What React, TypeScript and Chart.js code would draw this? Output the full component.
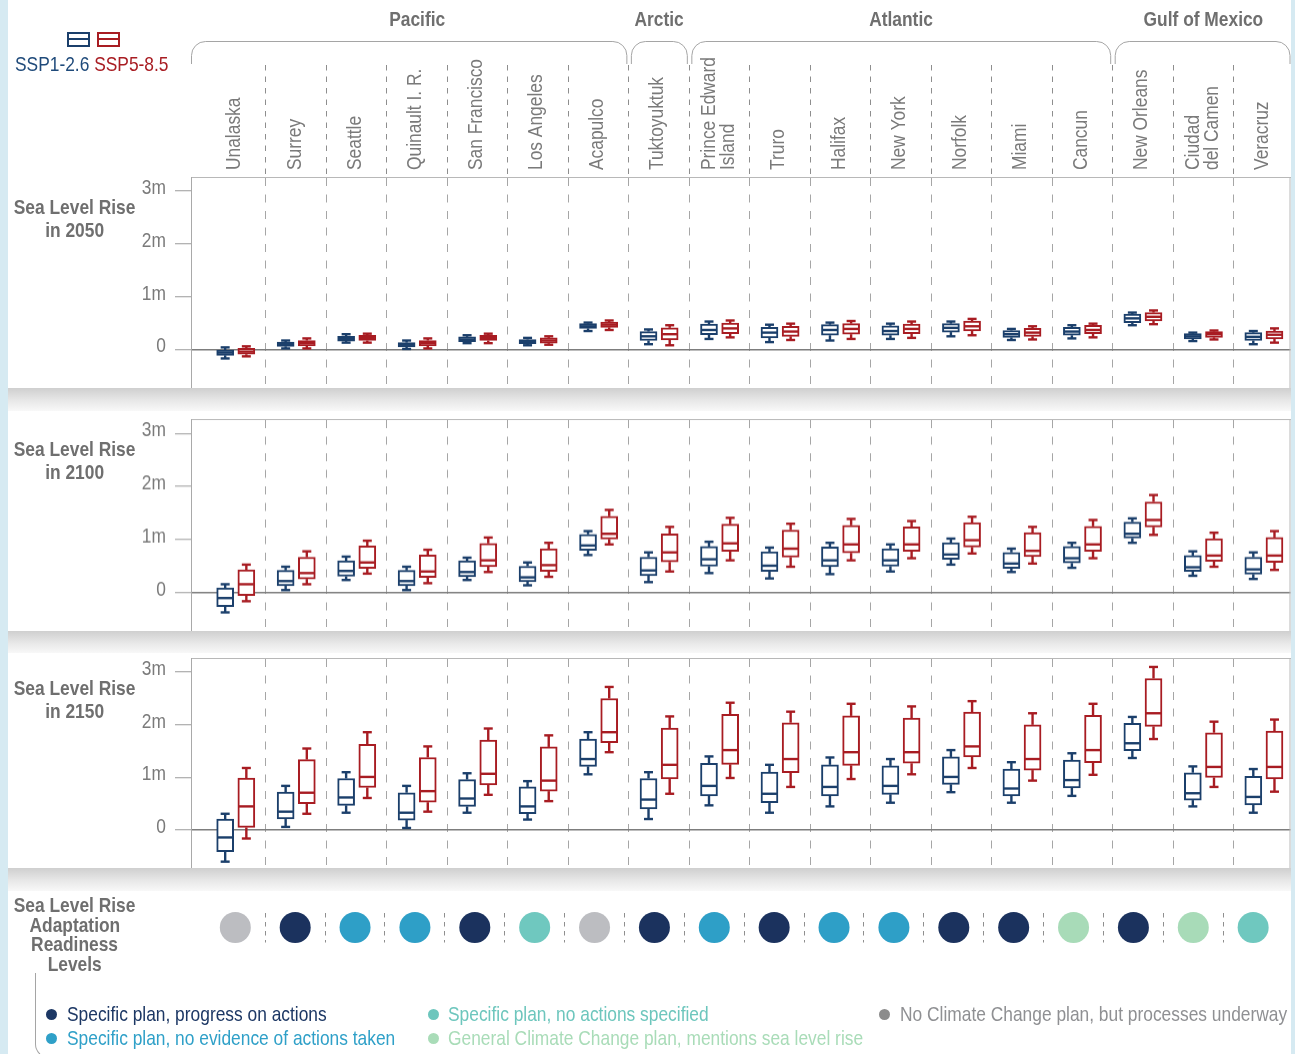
import React, { useEffect, useRef } from 'react';
import { Chart, registerables } from 'chart.js';

Chart.register(...registerables);

// ---------------- data ----------------
const cities: (string | string[])[] = [
  'Unalaska', 'Surrey', 'Seattle', 'Quinault I. R.', 'San Francisco', 'Los Angeles', 'Acapulco',
  'Tuktoyuktuk', ['Prince Edward', 'Island'], 'Truro', 'Halifax', 'New York', 'Norfolk', 'Miami',
  'Cancun', 'New Orleans', ['Ciudad', 'del Camen'], 'Veracruz',
];
const regionNames = ['Pacific', 'Arctic', 'Atlantic', 'Gulf of Mexico'];
const regionFirst = [0, 7, 8, 15];
const regionLast = [6, 7, 14, 17];
const scenarios = ['SSP1-2.6', 'SSP5-8.5'];
const yTickValues = [0, 1, 2, 3];
const yTickLabels = ['0', '1m', '2m', '3m'];
const panelTitles = [['Sea Level Rise', 'in 2050'], ['Sea Level Rise', 'in 2100'], ['Sea Level Rise', 'in 2150']];
const readinessTitle = ['Sea Level Rise', 'Adaptation', 'Readiness', 'Levels'];

// [low whisker, q1, median, q3, high whisker] in metres
const ssp126_2050 = [
  [-0.17, -0.11, -0.06, -0.01, 0.04], [0.02, 0.06, 0.10, 0.14, 0.17], [0.13, 0.16, 0.20, 0.25, 0.29],
  [0.01, 0.05, 0.09, 0.13, 0.17], [0.12, 0.15, 0.19, 0.24, 0.27], [0.08, 0.11, 0.15, 0.19, 0.22],
  [0.35, 0.40, 0.44, 0.49, 0.51], [0.10, 0.17, 0.25, 0.34, 0.38], [0.20, 0.28, 0.37, 0.48, 0.53],
  [0.14, 0.22, 0.32, 0.42, 0.47], [0.17, 0.27, 0.37, 0.47, 0.51], [0.20, 0.27, 0.35, 0.45, 0.49],
  [0.25, 0.33, 0.41, 0.49, 0.53], [0.18, 0.23, 0.29, 0.36, 0.39], [0.21, 0.27, 0.34, 0.42, 0.46],
  [0.46, 0.51, 0.59, 0.67, 0.70], [0.16, 0.20, 0.25, 0.30, 0.32], [0.10, 0.17, 0.24, 0.32, 0.35],
];
const ssp585_2050 = [
  [-0.13, -0.09, -0.04, 0.02, 0.06], [0.02, 0.07, 0.12, 0.17, 0.21], [0.13, 0.17, 0.22, 0.27, 0.30],
  [0.02, 0.07, 0.12, 0.17, 0.21], [0.12, 0.17, 0.22, 0.27, 0.30], [0.09, 0.12, 0.17, 0.22, 0.25],
  [0.37, 0.42, 0.47, 0.52, 0.55], [0.08, 0.18, 0.29, 0.41, 0.46], [0.23, 0.30, 0.40, 0.50, 0.55],
  [0.18, 0.25, 0.34, 0.44, 0.49], [0.20, 0.29, 0.39, 0.49, 0.54], [0.22, 0.30, 0.39, 0.48, 0.53],
  [0.27, 0.35, 0.44, 0.54, 0.58], [0.19, 0.25, 0.32, 0.40, 0.44], [0.23, 0.30, 0.37, 0.46, 0.49],
  [0.48, 0.54, 0.62, 0.70, 0.74], [0.19, 0.23, 0.29, 0.34, 0.36], [0.13, 0.20, 0.28, 0.35, 0.40],
];
const ssp126_2100 = [
  [-0.37, -0.26, -0.10, 0.09, 0.16], [0.05, 0.13, 0.22, 0.42, 0.49], [0.24, 0.31, 0.41, 0.60, 0.68],
  [0.05, 0.13, 0.22, 0.42, 0.49], [0.24, 0.30, 0.39, 0.60, 0.66], [0.14, 0.21, 0.29, 0.50, 0.57],
  [0.71, 0.80, 0.89, 1.10, 1.16], [0.20, 0.32, 0.42, 0.67, 0.76], [0.37, 0.50, 0.63, 0.87, 0.96],
  [0.27, 0.40, 0.51, 0.77, 0.85], [0.35, 0.49, 0.61, 0.86, 0.94], [0.40, 0.50, 0.61, 0.83, 0.91],
  [0.53, 0.63, 0.72, 0.94, 1.02], [0.39, 0.46, 0.55, 0.76, 0.83], [0.47, 0.56, 0.65, 0.87, 0.94],
  [0.94, 1.03, 1.11, 1.33, 1.40], [0.32, 0.40, 0.48, 0.70, 0.78], [0.26, 0.35, 0.44, 0.67, 0.76],
];
const ssp585_2100 = [
  [-0.16, -0.05, 0.16, 0.43, 0.53], [0.16, 0.26, 0.37, 0.67, 0.78], [0.36, 0.46, 0.57, 0.88, 0.98],
  [0.18, 0.29, 0.40, 0.71, 0.81], [0.39, 0.49, 0.61, 0.93, 1.04], [0.30, 0.40, 0.52, 0.83, 0.94],
  [0.91, 1.01, 1.11, 1.44, 1.56], [0.40, 0.58, 0.76, 1.11, 1.24], [0.61, 0.78, 0.93, 1.29, 1.41],
  [0.49, 0.67, 0.83, 1.18, 1.30], [0.61, 0.75, 0.91, 1.27, 1.39], [0.65, 0.78, 0.91, 1.24, 1.35],
  [0.74, 0.86, 0.99, 1.32, 1.43], [0.55, 0.68, 0.79, 1.13, 1.24], [0.65, 0.78, 0.91, 1.25, 1.37],
  [1.09, 1.24, 1.37, 1.71, 1.84], [0.49, 0.59, 0.70, 1.02, 1.13], [0.43, 0.57, 0.70, 1.04, 1.16],
];
const ssp126_2150 = [
  [-0.60, -0.41, -0.14, 0.21, 0.31], [0.06, 0.21, 0.35, 0.72, 0.84], [0.33, 0.47, 0.62, 0.98, 1.10],
  [0.04, 0.19, 0.33, 0.71, 0.84], [0.33, 0.45, 0.60, 0.96, 1.08], [0.20, 0.31, 0.45, 0.82, 0.93],
  [1.06, 1.21, 1.35, 1.73, 1.86], [0.21, 0.40, 0.58, 0.98, 1.10], [0.47, 0.65, 0.84, 1.27, 1.40],
  [0.33, 0.52, 0.69, 1.10, 1.24], [0.45, 0.65, 0.82, 1.24, 1.38], [0.52, 0.68, 0.84, 1.22, 1.35],
  [0.72, 0.87, 1.01, 1.39, 1.52], [0.52, 0.65, 0.79, 1.16, 1.29], [0.65, 0.80, 0.95, 1.33, 1.46],
  [1.37, 1.51, 1.65, 2.03, 2.15], [0.45, 0.57, 0.70, 1.09, 1.21], [0.33, 0.48, 0.63, 1.02, 1.16],
];
const ssp585_2150 = [
  [-0.16, 0.05, 0.45, 0.99, 1.18], [0.31, 0.50, 0.71, 1.34, 1.55], [0.61, 0.81, 1.01, 1.63, 1.86],
  [0.35, 0.53, 0.74, 1.38, 1.59], [0.67, 0.86, 1.07, 1.71, 1.93], [0.55, 0.74, 0.94, 1.58, 1.80],
  [1.48, 1.66, 1.86, 2.50, 2.72], [0.69, 0.97, 1.24, 1.94, 2.16], [0.99, 1.25, 1.52, 2.20, 2.42],
  [0.82, 1.09, 1.35, 2.04, 2.25], [0.97, 1.23, 1.48, 2.17, 2.40], [1.06, 1.27, 1.48, 2.13, 2.35],
  [1.18, 1.39, 1.59, 2.24, 2.45], [0.94, 1.14, 1.35, 2.00, 2.22], [1.05, 1.28, 1.52, 2.18, 2.40],
  [1.73, 1.97, 2.22, 2.88, 3.10], [0.82, 1.00, 1.20, 1.85, 2.06], [0.73, 0.97, 1.20, 1.88, 2.10],
];

const readinessLevels = [
  'Specific plan, progress on actions',
  'Specific plan, no evidence of actions taken',
  'Specific plan, no actions specified',
  'General Climate Change plan, mentions sea level rise',
  'No Climate Change plan, but processes underway',
];
// index into readinessLevels, one per city
const readiness = [4, 0, 1, 1, 0, 2, 4, 0, 1, 0, 1, 1, 0, 0, 3, 0, 3, 2];

// ---------------- styles ----------------
const FONT = "'Liberation Sans', Arial, sans-serif";
const NARROW = 0.827;
const BLUE = '#1b3f6b';
const RED = '#a81c22';
const LEVEL_COLORS = ['#1b325e', '#2e9fc7', '#6fc8bf', '#a8dbb8', '#bcbdc1'];
const LEVEL_TEXT = ['#1c3764', '#2fa0c8', '#6dc6bd', '#a9dcb8', '#8f9093'];
const LEVEL_DOT = ['#1c3764', '#2fa0c8', '#6dc6bd', '#a9dcb8', '#8c8c8c'];
const GRAY_TEXT = '#7a7a7a';
const LABEL_TEXT = '#6f6f6f';
const X_MIN = -0.74;
const X_MAX = 17.44;
const Y_MIN = -0.73;
const Y_MAX = 3.27;

function narrowText(ctx: any, text: string, x: number, y: number, align: string) {
  ctx.save();
  ctx.translate(x, y);
  ctx.scale(NARROW, 1);
  ctx.textAlign = align;
  ctx.fillText(text, 0, 0);
  ctx.restore();
}

function gridAxis(height: number, tickLen: number, dash: number[], color: string, showBorder: boolean) {
  return {
    type: 'linear',
    position: 'top',
    offset: false,
    min: X_MIN,
    max: X_MAX,
    afterBuildTicks: (s: any) => {
      s.ticks = cities.slice(1).map((_, i) => ({ value: i + 0.5 }));
    },
    afterFit: (s: any) => {
      s.height = height;
    },
    ticks: { display: false, autoSkip: false },
    grid: {
      offset: false,
      color,
      lineWidth: 1,
      drawTicks: tickLen > 0,
      tickLength: tickLen,
      tickColor: '#8e8e8e',
      tickWidth: 1,
      tickBorderDash: [5.5, 6],
    },
    border: { display: showBorder, color: '#b8b8b8', width: 1, dash },
  };
}

const boxPlugin = {
  id: 'boxWhiskers',
  afterDatasetsDraw(chart: any) {
    const { ctx } = chart;
    const y = chart.scales.y;
    chart.data.datasets.forEach((ds: any, di: number) => {
      const stats = ds.stats;
      if (!stats) return;
      const meta = chart.getDatasetMeta(di);
      meta.data.forEach((el: any, i: number) => {
        const [lo, q1, med, q3, hi] = stats[i];
        const { x, width } = el.getProps(['x', 'width'], true);
        ctx.save();
        ctx.strokeStyle = ds.borderColor;
        ctx.lineWidth = 2.4;
        ctx.lineCap = 'butt';
        const seg = (x1: number, y1: number, x2: number, y2: number) => {
          ctx.beginPath();
          ctx.moveTo(x1, y1);
          ctx.lineTo(x2, y2);
          ctx.stroke();
        };
        seg(x, y.getPixelForValue(q3), x, y.getPixelForValue(hi));
        seg(x, y.getPixelForValue(q1), x, y.getPixelForValue(lo));
        seg(x - 4.5, y.getPixelForValue(hi), x + 4.5, y.getPixelForValue(hi));
        seg(x - 4.5, y.getPixelForValue(lo), x + 4.5, y.getPixelForValue(lo));
        seg(x - width / 2 + 1, y.getPixelForValue(med), x + width / 2 - 1, y.getPixelForValue(med));
        ctx.restore();
      });
    });
  },
};

const framePlugin = {
  id: 'frameRight',
  afterDraw(chart: any) {
    const { ctx, chartArea: a } = chart;
    const y = chart.scales.y;
    ctx.save();
    ctx.strokeStyle = '#b8b8b8';
    ctx.lineWidth = 1;
    ctx.beginPath();
    ctx.moveTo(a.right - 0.5, a.top);
    ctx.lineTo(a.right - 0.5, a.bottom);
    ctx.stroke();
    // y tick labels (condensed)
    ctx.fillStyle = GRAY_TEXT;
    ctx.font = `21px ${FONT}`;
    ctx.textBaseline = 'middle';
    yTickValues.forEach((v, i) => {
      narrowText(ctx, yTickLabels[i], a.left - 25, y.getPixelForValue(v) - 3, 'right');
    });
    ctx.restore();
  },
};

const headerPlugin = {
  id: 'regionHeader',
  afterDraw(chart: any) {
    const { ctx, chartArea } = chart;
    const x = chart.scales.x;
    ctx.save();
    ctx.fillStyle = GRAY_TEXT;
    ctx.font = `21px ${FONT}`;
    ctx.textBaseline = 'middle';
    cities.forEach((c, i) => {
      const lines = Array.isArray(c) ? c : [c];
      const px = x.getPixelForValue(i) - (lines.length > 1 ? 0.5 : 1.5);
      ctx.save();
      ctx.translate(px, chartArea.top - 7);
      ctx.rotate(-Math.PI / 2);
      lines.forEach((ln, j) => narrowText(ctx, ln, 0, (j - (lines.length - 1) / 2) * 19, 'left'));
      ctx.restore();
    });
    ctx.font = `bold 21px ${FONT}`;
    ctx.fillStyle = LABEL_TEXT;
    ctx.strokeStyle = '#a5a5a5';
    ctx.lineWidth = 1;
    regionNames.forEach((name, k) => {
      const a = regionFirst[k];
      const b = regionLast[k];
      const cx = (x.getPixelForValue(a) + x.getPixelForValue(b)) / 2;
      narrowText(ctx, name, cx, 20, 'center');
      const l = k === 0 ? chartArea.left + 0.5 : x.getPixelForValue(a - 0.5) + 2.5;
      const r = k === regionNames.length - 1 ? chartArea.right - 0.5 : x.getPixelForValue(b + 0.5) - 2;
      const top = 41.5;
      const bot = 64;
      const rad = 14;
      ctx.beginPath();
      ctx.moveTo(l, bot);
      ctx.arcTo(l, top, l + rad, top, rad);
      ctx.arcTo(r, top, r, bot, rad);
      ctx.lineTo(r, bot);
      ctx.stroke();
    });
    ctx.restore();
  },
};

function boxConfig(blue: number[][], red: number[][], header: boolean): any {
  const mk = (stats: number[][], off: number, color: string, label: string) => ({
    type: 'bar',
    label,
    stats,
    data: stats.map((s, i) => ({ x: i + off, y: [s[1], s[3]] })),
    backgroundColor: '#ffffff',
    borderColor: color,
    borderWidth: 2,
    borderSkipped: false,
    grouped: false,
    barPercentage: 1,
    categoryPercentage: 1,
    maxBarThickness: 17,
  });
  return {
    type: 'bar',
    data: { datasets: [mk(blue, -0.175, BLUE, scenarios[0]), mk(red, 0.175, RED, scenarios[1])] },
    options: {
      responsive: true,
      maintainAspectRatio: false,
      animation: false,
      events: [],
      layout: { padding: { top: header ? 65 : 10, right: 4.5, left: 0, bottom: 0 } },
      scales: {
        x: gridAxis(header ? 112 : 0, header ? 112 : 0, [8, 8.5], '#a6a6a6', true),
        y: {
          type: 'linear',
          min: Y_MIN,
          max: Y_MAX,
          afterBuildTicks: (s: any) => {
            s.ticks = yTickValues.map((v) => ({ value: v }));
          },
          afterFit: (s: any) => {
            s.width = 191;
            s.paddingTop = 0;
            s.paddingBottom = 0;
          },
          ticks: { display: false, autoSkip: false },
          grid: {
            color: (c: any) => (c.tick && c.tick.value === 0 ? '#7d7d7d' : 'rgba(0,0,0,0)'),
            lineWidth: 1.5,
            tickLength: 16,
            tickColor: '#9a9a9a',
            tickWidth: 1,
          },
          border: { display: true, color: '#a9a9a9', width: 1 },
        },
      },
      plugins: { legend: { display: false }, tooltip: { enabled: false } },
    },
    plugins: header ? [boxPlugin, framePlugin, headerPlugin] : [boxPlugin, framePlugin],
  };
}

function dotsConfig(): any {
  return {
    type: 'scatter',
    data: {
      datasets: [
        {
          label: 'Readiness',
          data: readiness.map((_, i) => ({ x: i, y: 0 })),
          pointRadius: 15.5,
          pointHoverRadius: 15.5,
          pointBackgroundColor: readiness.map((r) => LEVEL_COLORS[r]),
          pointBorderWidth: 0,
          clip: false,
        },
      ],
    },
    options: {
      responsive: true,
      maintainAspectRatio: false,
      animation: false,
      events: [],
      layout: { padding: { top: 0, right: 4.5, left: 191, bottom: 0 } },
      scales: {
        x: gridAxis(0, 0, [4.5, 4.5], '#8f8f8f', false),
        y: { display: false, min: -1, max: 1 },
      },
      plugins: { legend: { display: false }, tooltip: { enabled: false } },
    },
  };
}

const abs = (left: number, top: number, width: number, height: number): React.CSSProperties => ({
  position: 'absolute',
  left,
  top,
  width,
  height,
});

function N({ children, origin }: { children: React.ReactNode; origin?: string }) {
  return (
    <span
      style={{
        display: 'inline-block',
        transform: `scaleX(${NARROW})`,
        transformOrigin: origin || 'left center',
        whiteSpace: 'nowrap',
      }}
    >
      {children}
    </span>
  );
}

export default function App() {
  const r1 = useRef<HTMLCanvasElement>(null);
  const r2 = useRef<HTMLCanvasElement>(null);
  const r3 = useRef<HTMLCanvasElement>(null);
  const r4 = useRef<HTMLCanvasElement>(null);

  useEffect(() => {
    const charts = [
      new Chart(r1.current as HTMLCanvasElement, boxConfig(ssp126_2050, ssp585_2050, true)),
      new Chart(r2.current as HTMLCanvasElement, boxConfig(ssp126_2100, ssp585_2100, false)),
      new Chart(r3.current as HTMLCanvasElement, boxConfig(ssp126_2150, ssp585_2150, false)),
      new Chart(r4.current as HTMLCanvasElement, dotsConfig()),
    ];
    return () => charts.forEach((c) => c.destroy());
  }, []);

  const band = (top: number, h: number) => (
    <div style={{ ...abs(8, top, 1282.5, h), background: 'linear-gradient(#cfcfcf, #e8e8e8 55%, #f8f8f8)' }} />
  );

  const panelTops = [177, 419, 657.5];
  const legendItems = [
    { lvl: 0, dot: 51, text: 67, cy: 1014 },
    { lvl: 1, dot: 51, text: 67, cy: 1038 },
    { lvl: 2, dot: 433, text: 448, cy: 1014 },
    { lvl: 3, dot: 433, text: 448, cy: 1038 },
    { lvl: 4, dot: 884, text: 900, cy: 1014 },
  ];

  const labelBlock: React.CSSProperties = {
    position: 'absolute',
    left: -25,
    width: 200,
    textAlign: 'center',
    fontWeight: 'bold',
    color: LABEL_TEXT,
    whiteSpace: 'nowrap',
  };

  return (
    <div
      style={{
        position: 'fixed',
        left: 0,
        top: 0,
        width: 1295,
        height: 1054,
        overflow: 'hidden',
        background: '#d6eaf2',
        fontFamily: FONT,
        fontSize: 21,
      }}
    >
      <div style={{ ...abs(8, 0, 1282.5, 1054), background: '#ffffff' }} />
      {band(388, 22.5)}
      {band(630.5, 22)}
      {band(868, 23)}

      <div style={abs(0, 0, 1295, 388)}>
        <canvas ref={r1} />
      </div>
      <div style={abs(0, 409, 1295, 221.5)}>
        <canvas ref={r2} />
      </div>
      <div style={abs(0, 647.5, 1295, 220.5)}>
        <canvas ref={r3} />
      </div>
      <div style={abs(0, 897, 1295, 61)}>
        <canvas ref={r4} />
      </div>

      {/* scenario legend */}
      <div style={{ ...abs(66.5, 31.5, 23.5, 15), border: `2px solid ${BLUE}`, boxSizing: 'border-box' }}>
        <div style={{ position: 'absolute', left: 0, right: 0, top: 4.5, height: 2, background: BLUE }} />
      </div>
      <div style={{ ...abs(96.5, 31.5, 23.5, 15), border: `2px solid ${RED}`, boxSizing: 'border-box' }}>
        <div style={{ position: 'absolute', left: 0, right: 0, top: 4.5, height: 2, background: RED }} />
      </div>
      <div style={{ position: 'absolute', left: 15, top: 52, lineHeight: '24px', whiteSpace: 'nowrap' }}>
        <N>
          <span style={{ color: '#1f4a7a' }}>{scenarios[0]}</span>{' '}
          <span style={{ color: RED }}>{scenarios[1]}</span>
        </N>
      </div>

      {/* panel titles */}
      {panelTitles.map((t, k) => (
        <div key={k} style={{ ...labelBlock, top: panelTops[k] + 18, lineHeight: '23px' }}>
          {t.map((ln, j) => (
            <div key={j}>
              <N origin="center center">{ln}</N>
            </div>
          ))}
        </div>
      ))}
      <div style={{ ...labelBlock, top: 895, lineHeight: '19.7px' }}>
        {readinessTitle.map((ln, j) => (
          <div key={j}>
            <N origin="center center">{ln}</N>
          </div>
        ))}
      </div>

      {/* readiness legend */}
      <div
        style={{
          ...abs(35, 973, 80, 85),
          borderLeft: '1px solid #a5a5a5',
          borderBottom: '1px solid #a5a5a5',
          borderBottomLeftRadius: 14,
          boxSizing: 'border-box',
        }}
      />
      {legendItems.map((it) => (
        <React.Fragment key={it.lvl}>
          <div
            style={{
              ...abs(it.dot - 5.5, it.cy - 5.5, 11, 11),
              borderRadius: '50%',
              background: LEVEL_DOT[it.lvl],
            }}
          />
          <div
            style={{
              position: 'absolute',
              left: it.text,
              top: it.cy - 12,
              lineHeight: '24px',
              color: LEVEL_TEXT[it.lvl],
              whiteSpace: 'nowrap',
            }}
          >
            <N>{readinessLevels[it.lvl]}</N>
          </div>
        </React.Fragment>
      ))}
    </div>
  );
}
